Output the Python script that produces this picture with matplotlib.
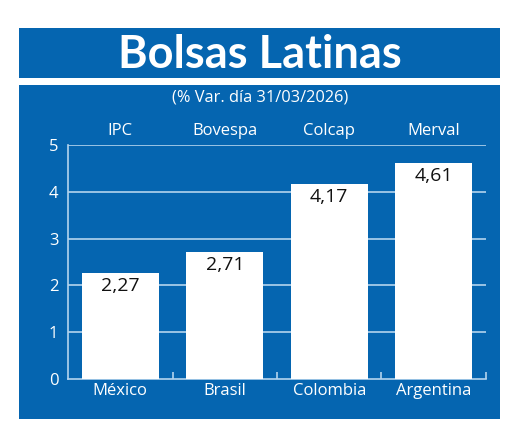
import matplotlib.pyplot as plt
from matplotlib.patches import Rectangle

indices = ["IPC", "Bovespa", "Colcap", "Merval"]
paises = ["México", "Brasil", "Colombia", "Argentina"]
variacion = [2.27, 2.71, 4.17, 4.61]
etiquetas = ["2,27", "2,71", "4,17", "4,61"]
yticks = [0, 1, 2, 3, 4, 5]

azul = "#0565b0"
linea = "#b4d4ee"

fig = plt.figure(figsize=(5.2, 4.41), dpi=100)
fig.patch.set_facecolor("white")

# franja del titulo y panel inferior
fig.patches.append(Rectangle((0.0365, 0.8231), 0.925, 0.1134, transform=fig.transFigure,
                             facecolor=azul, edgecolor="none", zorder=-5))
fig.patches.append(Rectangle((0.0365, 0.0499), 0.925, 0.7574, transform=fig.transFigure,
                             facecolor=azul, edgecolor="none", zorder=-5))

fig.text(0.5, 0.876, "Bolsas Latinas", color="white", fontsize=32.5, fontweight="bold",
         family="Lato", ha="center", va="center")
fig.text(0.5, 0.778, "(% Var. día 31/03/2026)", color="white", fontsize=11.8,
         family="Open Sans", ha="center", va="center")

ax = fig.add_axes([0.1308, 0.1406, 0.8038, 0.5306])
ax.set_facecolor("none")
x = [i + 0.5 for i in range(len(paises))]
ax.bar(x, variacion, width=0.74, color="white", zorder=3)
ax.set_xlim(0, 4)
ax.set_ylim(0, 5)

for yv in yticks[1:]:
    ax.axhline(yv, color=linea, lw=1.2, zorder=1)

for xi, v, t in zip(x, variacion, etiquetas):
    ax.text(xi, v - 0.08, t, ha="center", va="top", fontsize=14, color="#111111",
            family="Open Sans", zorder=4)
for xi, t in zip(x, indices):
    ax.text(xi, 5.3, t, ha="center", va="center", fontsize=12, color="white",
            family="Open Sans")

ax.set_yticks(yticks)
ax.set_yticklabels([str(v) for v in yticks], color="white", fontsize=12, family="Open Sans")
ax.tick_params(axis="y", length=0, pad=7)
ax.set_xticks([1, 2, 3, 4])
ax.set_xticklabels([])
ax.tick_params(axis="x", direction="in", length=5, color=linea, width=1.2)
ax.set_xticks(x, minor=True)
ax.set_xticklabels(paises, minor=True, color="white", fontsize=12, family="Open Sans")
ax.tick_params(axis="x", which="minor", length=0, pad=3)

for s in ["top", "right"]:
    ax.spines[s].set_visible(False)
ax.spines["left"].set_color(linea)
ax.spines["bottom"].set_color(linea)
ax.spines["left"].set_linewidth(1.2)
ax.spines["bottom"].set_linewidth(1.2)

fig.savefig("out.png", dpi=100, facecolor="white")
